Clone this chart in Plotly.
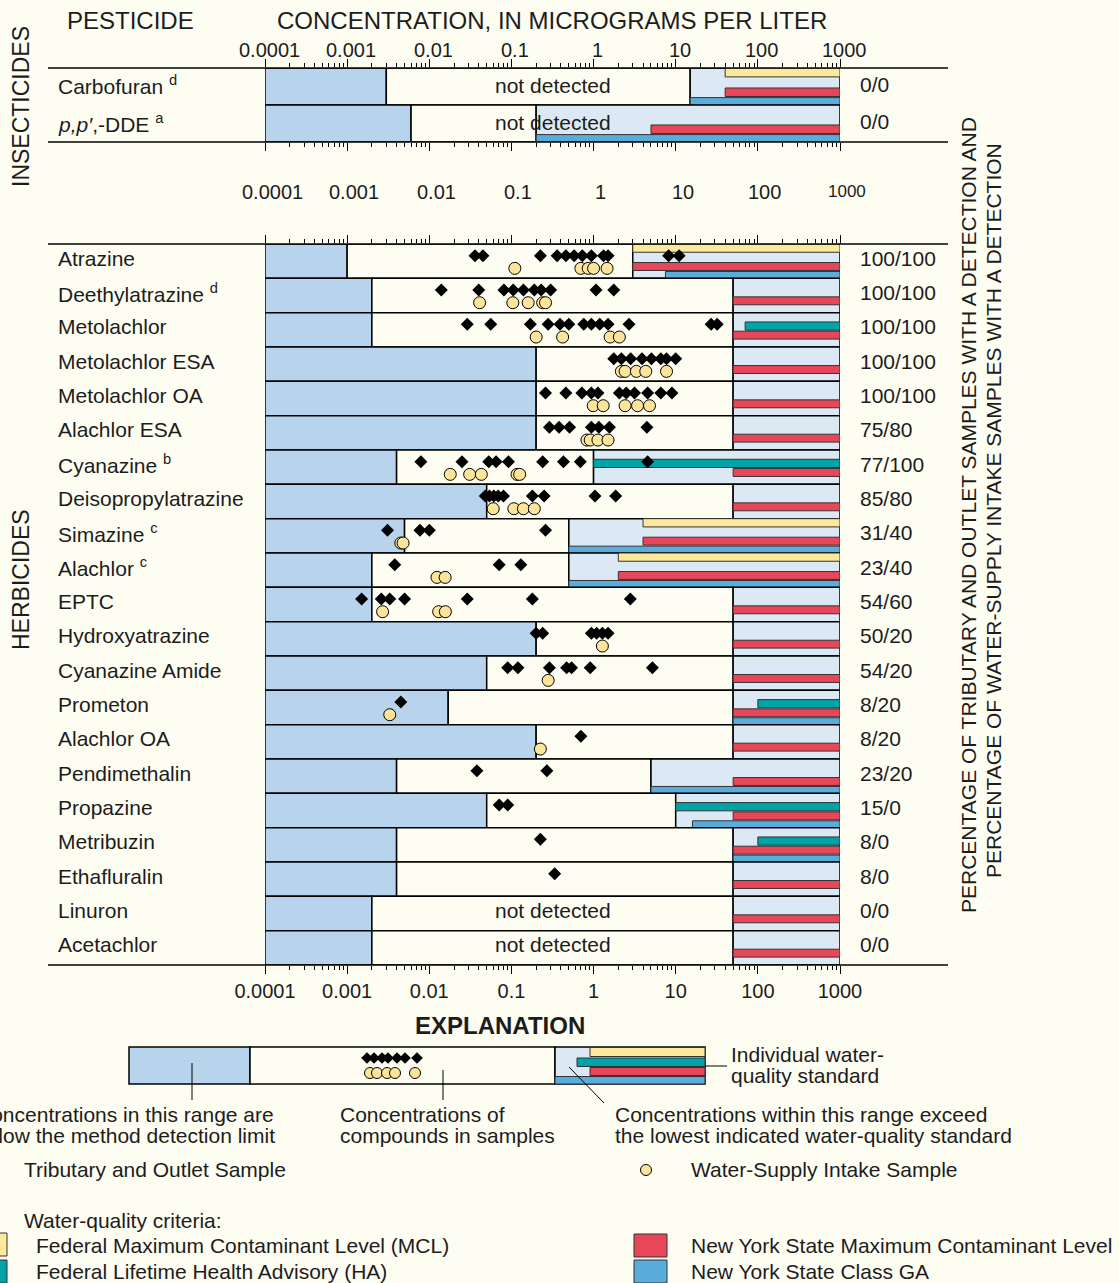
import math
import plotly.graph_objects as go

W, H = 1119, 1283
OFF = 0  # page body margin removed below, so figure pixels = window pixels
FONT = "Liberation Sans, Arial, sans-serif"
TXT = "#1c1c1c"
CREAM = "#FEFDF2"
BOXBLUE = "#B7D4EC"
LIGHTBLUE = "#DCE9F5"
YELLOW = "#FDE99B"
TEAL = "#00A4A6"
RED = "#E8475A"
GABLUE = "#5AADDA"
CIRCLE = "#FCE59A"

# ---------------- data ----------------
TICK_VALUES = [0.0001, 0.001, 0.01, 0.1, 1, 10, 100, 1000]
TICK_LABELS = ["0.0001", "0.001", "0.01", "0.1", "1", "10", "100", "1000"]

# Insecticides
INSECT_NAMES = ["Carbofuran <sup>d</sup>", "<i>p,p′</i>,-DDE <sup>a</sup>"]
INSECT_MDL = [0.003, 0.006]
INSECT_EXCEED = [15, 0.2]
INSECT_MCL = [40, None]
INSECT_HA = [None, None]
INSECT_NYSMCL = [40, 5]
INSECT_GA = [15, 0.2]
INSECT_PCT = ["0/0", "0/0"]
INSECT_NOT_DETECTED = [True, True]
DDE_OFFSCALE_TRIB = [0.0073]

# Herbicides
HERB_NAMES = ["Atrazine", "Deethylatrazine <sup>d</sup>", "Metolachlor", "Metolachlor ESA",
              "Metolachlor OA", "Alachlor ESA", "Cyanazine <sup>b</sup>", "Deisopropylatrazine",
              "Simazine <sup>c</sup>", "Alachlor <sup>c</sup>", "EPTC", "Hydroxyatrazine",
              "Cyanazine Amide", "Prometon", "Alachlor OA", "Pendimethalin", "Propazine",
              "Metribuzin", "Ethafluralin", "Linuron", "Acetachlor"]
HERB_MDL = [0.001, 0.002, 0.002, 0.2, 0.2, 0.2, 0.004, 0.05, 0.005, 0.002, 0.002, 0.2,
            0.05, 0.017, 0.2, 0.004, 0.05, 0.004, 0.004, 0.002, 0.002]
HERB_EXCEED = [3, 50, 50, 50, 50, 50, 1, 50, 0.5, 0.5, 50, 50, 50, 50, 50, 5, 10, 50, 50, 50, 50]
HERB_MCL = [3, None, None, None, None, None, None, None, 4, 2, None, None, None, None, None,
            None, None, None, None, None, None]
HERB_HA = [None, None, 70, None, None, None, 1, None, None, None, None, None, None, 100, None,
           None, 10, 100, None, None, None]
HERB_NYSMCL = [3, 50, 50, 50, 50, 50, 50, 50, 4, 2, 50, 50, 50, 50, 50, 50, 50, 50, 50, 50, 50]
HERB_GA = [7.5, None, None, None, None, None, None, None, 0.5, 0.5, None, None, None, 50, None,
           5, 16, 50, None, None, None]
HERB_PCT = ["100/100", "100/100", "100/100", "100/100", "100/100", "75/80", "77/100", "85/80",
            "31/40", "23/40", "54/60", "50/20", "54/20", "8/20", "8/20", "23/20", "15/0", "8/0",
            "8/0", "0/0", "0/0"]

atrazine_trib = [0.036, 0.045, 0.225, 0.36, 0.46, 0.58, 0.73, 0.94, 1.32, 1.5, 8.2, 11]
atrazine_intake = [0.11, 0.70, 0.86, 1.0, 1.46]
deethylatrazine_trib = [0.014, 0.040, 0.081, 0.105, 0.14, 0.19, 0.23, 0.30, 1.07, 1.76]
deethylatrazine_intake = [0.041, 0.104, 0.16, 0.24, 0.26]
metolachlor_trib = [0.029, 0.056, 0.17, 0.28, 0.39, 0.50, 0.76, 0.94, 1.19, 1.5, 2.7, 27, 32]
metolachlor_intake = [0.20, 0.42, 1.59, 2.06]
metolachlor_esa_trib = [1.76, 2.18, 2.83, 3.89, 5.06, 6.59, 7.73, 10.0]
metolachlor_esa_intake = [2.18, 2.42, 3.32, 4.32, 7.73]
metolachlor_oa_trib = [0.26, 0.46, 0.72, 0.94, 1.13, 2.06, 2.5, 3.15, 4.55, 6.59, 9.0]
metolachlor_oa_intake = [0.99, 1.31, 2.42, 3.43, 4.8]
alachlor_esa_trib = [0.29, 0.38, 0.51, 0.94, 1.16, 1.56, 4.46]
alachlor_esa_intake = [0.83, 0.91, 1.13, 1.5]
cyanazine_trib = [0.0079, 0.025, 0.053, 0.065, 0.092, 0.24, 0.43, 0.69, 4.55]
cyanazine_intake = [0.018, 0.031, 0.043, 0.117, 0.126]
deisopropylatrazine_trib = [0.048, 0.054, 0.061, 0.069, 0.080, 0.18, 0.25, 1.04, 1.86]
deisopropylatrazine_intake = [0.060, 0.107, 0.14, 0.19]
simazine_trib = [0.0031, 0.0077, 0.010, 0.26]
simazine_intake = [0.0045, 0.0048]
alachlor_trib = [0.0038, 0.071, 0.13]
alachlor_intake = [0.0124, 0.0156]
eptc_trib = [0.0015, 0.0026, 0.0033, 0.0050, 0.029, 0.18, 2.8]
eptc_intake = [0.0027, 0.013, 0.0157]
hydroxyatrazine_trib = [0.20, 0.24, 0.94, 1.09, 1.28, 1.5]
hydroxyatrazine_intake = [1.28]
cyanazine_amide_trib = [0.090, 0.12, 0.29, 0.47, 0.54, 0.91, 5.2]
cyanazine_amide_intake = [0.28]
prometon_trib = [0.0045]
prometon_intake = [0.0033]
alachlor_oa_trib = [0.70]
alachlor_oa_intake = [0.225]
pendimethalin_trib = [0.038, 0.27]
pendimethalin_intake = []
propazine_trib = [0.071, 0.090]
propazine_intake = []
metribuzin_trib = [0.225]
metribuzin_intake = []
ethafluralin_trib = [0.336]
ethafluralin_intake = []
linuron_trib = []
linuron_intake = []
acetachlor_trib = []
acetachlor_intake = []

HERB_TRIB = [atrazine_trib, deethylatrazine_trib, metolachlor_trib, metolachlor_esa_trib,
             metolachlor_oa_trib, alachlor_esa_trib, cyanazine_trib, deisopropylatrazine_trib,
             simazine_trib, alachlor_trib, eptc_trib, hydroxyatrazine_trib, cyanazine_amide_trib,
             prometon_trib, alachlor_oa_trib, pendimethalin_trib, propazine_trib, metribuzin_trib,
             ethafluralin_trib, linuron_trib, acetachlor_trib]
HERB_INTAKE = [atrazine_intake, deethylatrazine_intake, metolachlor_intake, metolachlor_esa_intake,
               metolachlor_oa_intake, alachlor_esa_intake, cyanazine_intake,
               deisopropylatrazine_intake, simazine_intake, alachlor_intake, eptc_intake,
               hydroxyatrazine_intake, cyanazine_amide_intake, prometon_intake, alachlor_oa_intake,
               pendimethalin_intake, propazine_intake, metribuzin_intake, ethafluralin_intake,
               linuron_intake, acetachlor_intake]
HERB_NOT_DETECTED = [len(t) == 0 and len(c) == 0 for t, c in zip(HERB_TRIB, HERB_INTAKE)]

# ---------------- layout geometry (window pixels) ----------------
PLOT_L, PLOT_R = 265, 840
INS_TOP, INS_BOT = 68, 142
HERB_TOP, HERB_BOT = 244, 965
LINE_L, LINE_R = 48, 948


def pxx(x):
    return (x - OFF) / W


def pxy(y):
    return 1 - (y - OFF) / H


shapes = []
annotations = []


def rect(xref, yref, x0, x1, y0, y1, fill, lw=1.5, lc="black", layer="below"):
    shapes.append(dict(type="rect", xref=xref, yref=yref, x0=x0, x1=x1, y0=y0, y1=y1,
                       fillcolor=fill, line=dict(color=lc, width=lw), layer=layer))


def prect(x0, x1, y0, y1, fill, lw=1.5, lc="black"):
    rect("paper", "paper", pxx(x0), pxx(x1), pxy(y1), pxy(y0), fill, lw, lc)


def line(x0, y0, x1, y1, lw=1.5, color="black"):
    shapes.append(dict(type="line", xref="paper", yref="paper", x0=pxx(x0), x1=pxx(x1),
                       y0=pxy(y0), y1=pxy(y1), line=dict(color=color, width=lw)))


def text(t, x, y, size=21, xanchor="left", yanchor="middle", angle=0, bold=False):
    annotations.append(dict(text=("<b>%s</b>" % t) if bold else t, x=pxx(x), y=pxy(y),
                            xref="paper", yref="paper", xanchor=xanchor, yanchor=yanchor,
                            showarrow=False, textangle=angle,
                            font=dict(family=FONT, size=size, color=TXT)))


SLOTS = [(0.0, 0.24), (0.27, 0.51), (0.54, 0.77), (0.80, 1.0)]
SLOT_COLORS = [YELLOW, TEAL, RED, GABLUE]


def draw_row(xref, yref, i, mdl, exceed, stds):
    rect(xref, yref, TICK_VALUES[0], mdl, i, i + 1, BOXBLUE)
    rect(xref, yref, mdl, exceed, i, i + 1, CREAM)
    rect(xref, yref, exceed, TICK_VALUES[-1], i, i + 1, LIGHTBLUE)
    for k, v in enumerate(stds):
        if v is not None:
            s0, s1 = SLOTS[k]
            rect(xref, yref, v, TICK_VALUES[-1], i + s0, i + s1, SLOT_COLORS[k], lw=1,
                 lc="#333333")


for i in range(len(INSECT_NAMES)):
    draw_row("x3", "y2", i, INSECT_MDL[i], INSECT_EXCEED[i],
             [INSECT_MCL[i], INSECT_HA[i], INSECT_NYSMCL[i], INSECT_GA[i]])
for i in range(len(HERB_NAMES)):
    draw_row("x", "y", i, HERB_MDL[i], HERB_EXCEED[i],
             [HERB_MCL[i], HERB_HA[i], HERB_NYSMCL[i], HERB_GA[i]])

# full-width rules
for yy in (INS_TOP, INS_BOT, HERB_TOP, HERB_BOT):
    line(LINE_L, yy, LINE_R, yy)

# row labels and percentages
ins_h = (INS_BOT - INS_TOP) / len(INSECT_NAMES)
for i, name in enumerate(INSECT_NAMES):
    yc = INS_TOP + ins_h * (i + 0.5) - 1
    text(name, 56, yc)
    text(INSECT_PCT[i], 858, yc - 1)
    if INSECT_NOT_DETECTED[i]:
        annotations.append(dict(text="not detected", x=-0.5, y=i + 0.5, xref="x3", yref="y2",
                                xanchor="center", yanchor="middle", yshift=1, showarrow=False,
                                font=dict(family=FONT, size=21, color=TXT)))

herb_h = (HERB_BOT - HERB_TOP) / len(HERB_NAMES)
for i, name in enumerate(HERB_NAMES):
    yc = HERB_TOP + herb_h * (i + 0.5) - 3
    text(name, 56, yc)
    text(HERB_PCT[i], 858, yc)
    if HERB_NOT_DETECTED[i]:
        annotations.append(dict(text="not detected", x=-0.5, y=i + 0.5, xref="x", yref="y",
                                xanchor="center", yanchor="middle", yshift=3, showarrow=False,
                                font=dict(family=FONT, size=21, color=TXT)))

# tick labels of the top scale (insecticides) and the middle scale (herbicides)
for v, lab in zip(TICK_VALUES, TICK_LABELS):
    annotations.append(dict(text=lab, x=math.log10(v), y=pxy(50), xref="x3", yref="paper",
                            xanchor="center", yanchor="middle", xshift=4, showarrow=False,
                            font=dict(family=FONT, size=20, color=TXT)))
    annotations.append(dict(text=lab, x=math.log10(v), y=pxy(192), xref="x", yref="paper",
                            xanchor="center", yanchor="middle", xshift=7, showarrow=False,
                            font=dict(family=FONT, size=17 if lab == "1000" else 20, color=TXT)))

# headers
text("PESTICIDE", 65, 21, size=24)
text("CONCENTRATION, IN MICROGRAMS PER LITER", 552, 21, size=24, xanchor="center")
text("INSECTICIDES", 21, 107, size=23, xanchor="center", angle=-90)
text("HERBICIDES", 21, 580, size=23, xanchor="center", angle=-90)
text("PERCENTAGE OF TRIBUTARY AND OUTLET SAMPLES WITH A DETECTION AND", 968, 515,
     size=21, xanchor="center", angle=-90)
text("PERCENTAGE OF WATER-SUPPLY INTAKE SAMPLES WITH A DETECTION", 993, 511,
     size=21, xanchor="center", angle=-90)

# ---------------- explanation ----------------
text("EXPLANATION", 500, 1025, size=24, xanchor="center", bold=True)
EX_T, EX_B = 1047, 1084
prect(129, 250, EX_T, EX_B, BOXBLUE)
prect(250, 555, EX_T, EX_B, CREAM)
prect(555, 705, EX_T, EX_B, LIGHTBLUE)
prect(590, 705, 1047.5, 1056.5, YELLOW, lw=1, lc="#333")
prect(577, 705, 1058, 1066.5, TEAL, lw=1, lc="#333")
prect(590, 705, 1067.5, 1075.5, RED, lw=1, lc="#333")
prect(555, 705, 1076.5, 1084, GABLUE, lw=1, lc="#333")
line(192, 1063, 192, 1100, lw=1)
line(443, 1070, 443, 1100, lw=1)
line(569, 1067, 604, 1103, lw=1)
line(705, 1066, 727, 1066, lw=1)
text("Individual water-", 729, 1054)
text("quality standard", 729, 1075)
text("Concentrations in this range are", 276, 1114, xanchor="right")
text("below the method detection limit", 277, 1135, xanchor="right")
text("Concentrations of", 338, 1114)
text("compounds in samples", 338, 1135)
text("Concentrations within this range exceed", 613, 1114)
text("the lowest indicated water-quality standard", 613, 1135)
text("Tributary and Outlet Sample", 22, 1169)
text("Water-Supply Intake Sample", 689, 1169)
text("Water-quality criteria:", 22, 1220)
prect(-26, 7, 1233, 1256, YELLOW, lw=1, lc="#333")
prect(-26, 7, 1260, 1283, TEAL, lw=1, lc="#333")
prect(634, 667, 1234, 1257, RED, lw=1, lc="#333")
prect(634, 667, 1260, 1283, GABLUE, lw=1, lc="#333")
text("Federal Maximum Contaminant Level (MCL)", 34, 1245)
text("Federal Lifetime Health Advisory (HA)", 34, 1271)
text("New York State Maximum Contaminant Level", 689, 1245)
text("New York State Class GA", 689, 1271)

# ---------------- traces ----------------
fig = go.Figure()
DIA_Y, CIR_Y = 0.34, 0.71
tx, ty, cx, cy = [], [], [], []
for i in range(len(HERB_NAMES)):
    tx += HERB_TRIB[i]
    ty += [i + DIA_Y] * len(HERB_TRIB[i])
    cx += HERB_INTAKE[i]
    cy += [i + CIR_Y] * len(HERB_INTAKE[i])

fig.add_trace(go.Scatter(x=tx, y=ty, xaxis="x", yaxis="y", mode="markers",
                         marker=dict(symbol="diamond", size=10, color="black",
                                     line=dict(width=0)), hoverinfo="x", showlegend=False))
fig.add_trace(go.Scatter(x=cx, y=cy, xaxis="x2", yaxis="y", mode="markers",
                         marker=dict(symbol="circle", size=12, color=CIRCLE,
                                     line=dict(width=1, color="black")),
                         hoverinfo="x", showlegend=False))
stray_y = (177 - INS_TOP) / ins_h
fig.add_trace(go.Scatter(x=DDE_OFFSCALE_TRIB, y=[stray_y] * len(DDE_OFFSCALE_TRIB),
                         xaxis="x4", yaxis="y2", mode="markers", cliponaxis=False,
                         marker=dict(symbol="diamond", size=10, color="black"),
                         hoverinfo="x", showlegend=False))

# explanation sample markers (pixel overlay axis, window pixel coordinates)
EX_DIAMOND_PX = [367, 374, 382, 388, 397, 405, 417]
EX_CIRCLE_PX = [370, 377, 387, 395, 415]
fig.add_trace(go.Scatter(x=EX_DIAMOND_PX, y=[1058] * len(EX_DIAMOND_PX), xaxis="x5", yaxis="y5",
                         mode="markers", marker=dict(symbol="diamond", size=9, color="black"),
                         hoverinfo="skip", showlegend=False))
fig.add_trace(go.Scatter(x=EX_CIRCLE_PX + [646], y=[1073] * len(EX_CIRCLE_PX) + [1170],
                         xaxis="x5", yaxis="y5", mode="markers",
                         marker=dict(symbol="circle", size=11, color=CIRCLE,
                                     line=dict(width=1, color="black")),
                         hoverinfo="skip", showlegend=False))

minor_vals = [k * 10 ** e for e in range(-4, 3) for k in range(2, 10)]
common = dict(type="log", range=[-4, 3], tickmode="array", tickvals=TICK_VALUES,
              ticktext=TICK_LABELS, ticks="outside", ticklen=8, tickwidth=1.3,
              tickcolor="black", showgrid=False, zeroline=False, showline=False,
              minor=dict(tickmode="array", tickvals=minor_vals, ticks="outside", ticklen=4,
                         tickwidth=1, tickcolor="black", showgrid=False),
              tickfont=dict(family=FONT, size=20, color=TXT), fixedrange=True)
dom = [pxx(PLOT_L), pxx(PLOT_R)]

fig.update_layout(
    width=W, height=H, margin=dict(l=0, r=0, t=0, b=0, autoexpand=False),
    paper_bgcolor=CREAM, plot_bgcolor="rgba(0,0,0,0)",
    showlegend=False, font=dict(family=FONT, color=TXT),
    xaxis=dict(common, domain=dom, anchor="y", side="bottom"),
    xaxis2=dict(common, overlaying="x", anchor="y", side="top", showticklabels=False),
    xaxis3=dict(common, domain=dom, anchor="y2", side="top", showticklabels=False),
    xaxis4=dict(common, overlaying="x3", anchor="y2", side="bottom", showticklabels=False),
    xaxis5=dict(domain=[0, 1], range=[OFF, W + OFF], anchor="y5", visible=False,
                fixedrange=True),
    yaxis=dict(domain=[pxy(HERB_BOT), pxy(HERB_TOP)], range=[len(HERB_NAMES), 0],
               visible=False, fixedrange=True, anchor="x"),
    yaxis2=dict(domain=[pxy(INS_BOT), pxy(INS_TOP)], range=[len(INSECT_NAMES), 0],
                visible=False, fixedrange=True, anchor="x3"),
    yaxis5=dict(domain=[0, 1], range=[H + OFF, OFF], anchor="x5", visible=False,
                fixedrange=True),
    shapes=shapes, annotations=annotations,
)

fig.write_html("out.html",
               config={"displayModeBar": False},
               post_script="document.body.style.margin='0';"
                           "document.body.style.background='%s';" % CREAM)
